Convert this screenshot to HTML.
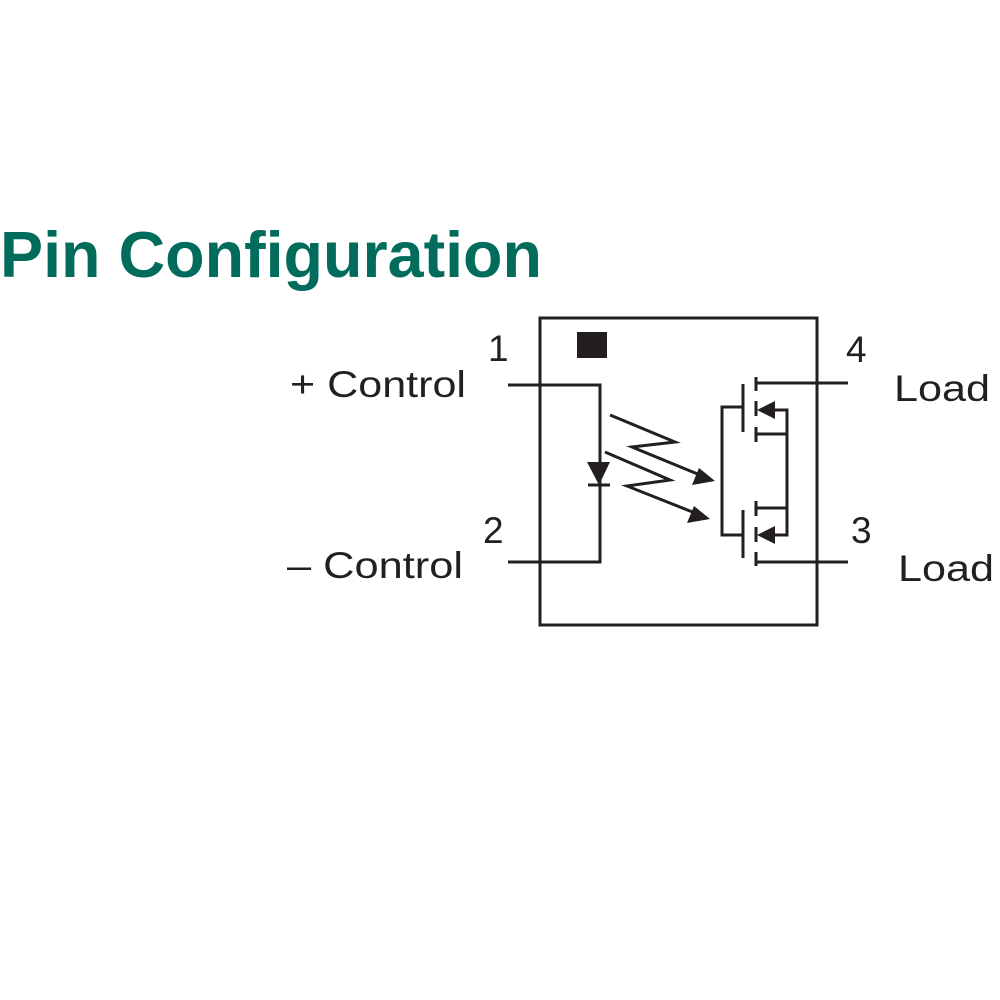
<!DOCTYPE html>
<html><head><style>html,body{margin:0;padding:0;background:#fff;}svg{display:block}</style></head>
<body>
<svg width="1000" height="1000" viewBox="0 0 1000 1000" xmlns="http://www.w3.org/2000/svg">
<text x="0" y="277" font-family="Liberation Sans, sans-serif" font-weight="bold" font-size="65" fill="#016b5c" textLength="542" lengthAdjust="spacingAndGlyphs">Pin Configuration</text>
<g font-family="Liberation Sans, sans-serif" font-size="37" fill="#231f20">
<text x="488" y="361">1</text>
<text x="290" y="397" textLength="176" lengthAdjust="spacingAndGlyphs">+ Control</text>
<text x="483" y="543">2</text>
<text x="287" y="578" textLength="176" lengthAdjust="spacingAndGlyphs">– Control</text>
<text x="846" y="362">4</text>
<text x="894" y="401" textLength="96" lengthAdjust="spacingAndGlyphs">Load</text>
<text x="851" y="543">3</text>
<text x="898" y="581" textLength="96" lengthAdjust="spacingAndGlyphs">Load</text>
</g>
<g stroke="#231f20" stroke-width="3" fill="none">
<rect x="540" y="318" width="277" height="307"/>
<polyline points="508,385 600,385 600,562 508,562"/>
<line x1="588" y1="485" x2="610" y2="485"/>
<polyline points="610,415 675,442 632,447 700,475"/>
<polyline points="605,452 670,480 627,486 695,513"/>
<polyline points="743,407 722,407 722,535 743,535"/>
<line x1="743" y1="384" x2="743" y2="432"/>
<line x1="743" y1="510" x2="743" y2="558"/>
<line x1="756" y1="377" x2="756" y2="391"/>
<line x1="756" y1="401" x2="756" y2="416"/>
<line x1="756" y1="427" x2="756" y2="442"/>
<line x1="756" y1="501" x2="756" y2="516"/>
<line x1="756" y1="527" x2="756" y2="542"/>
<line x1="756" y1="552" x2="756" y2="566"/>
<line x1="756" y1="383" x2="848" y2="383"/>
<line x1="756" y1="562" x2="848" y2="562"/>
<polyline points="770,410 787,410 787,535 770,535"/>
<line x1="756" y1="434" x2="787" y2="434"/>
<line x1="756" y1="508" x2="787" y2="508"/>
</g>
<g fill="#231f20">
<rect x="577" y="332" width="30" height="26"/>
<polygon points="587,462 610,462 599,485"/>
<polygon points="715,481 692,485 699,468"/>
<polygon points="710,519 687,523 694,506"/>
<polygon points="757,410 775,401 775,419"/>
<polygon points="757,535 775,526 775,544"/>
</g>
</svg>
</body></html>
